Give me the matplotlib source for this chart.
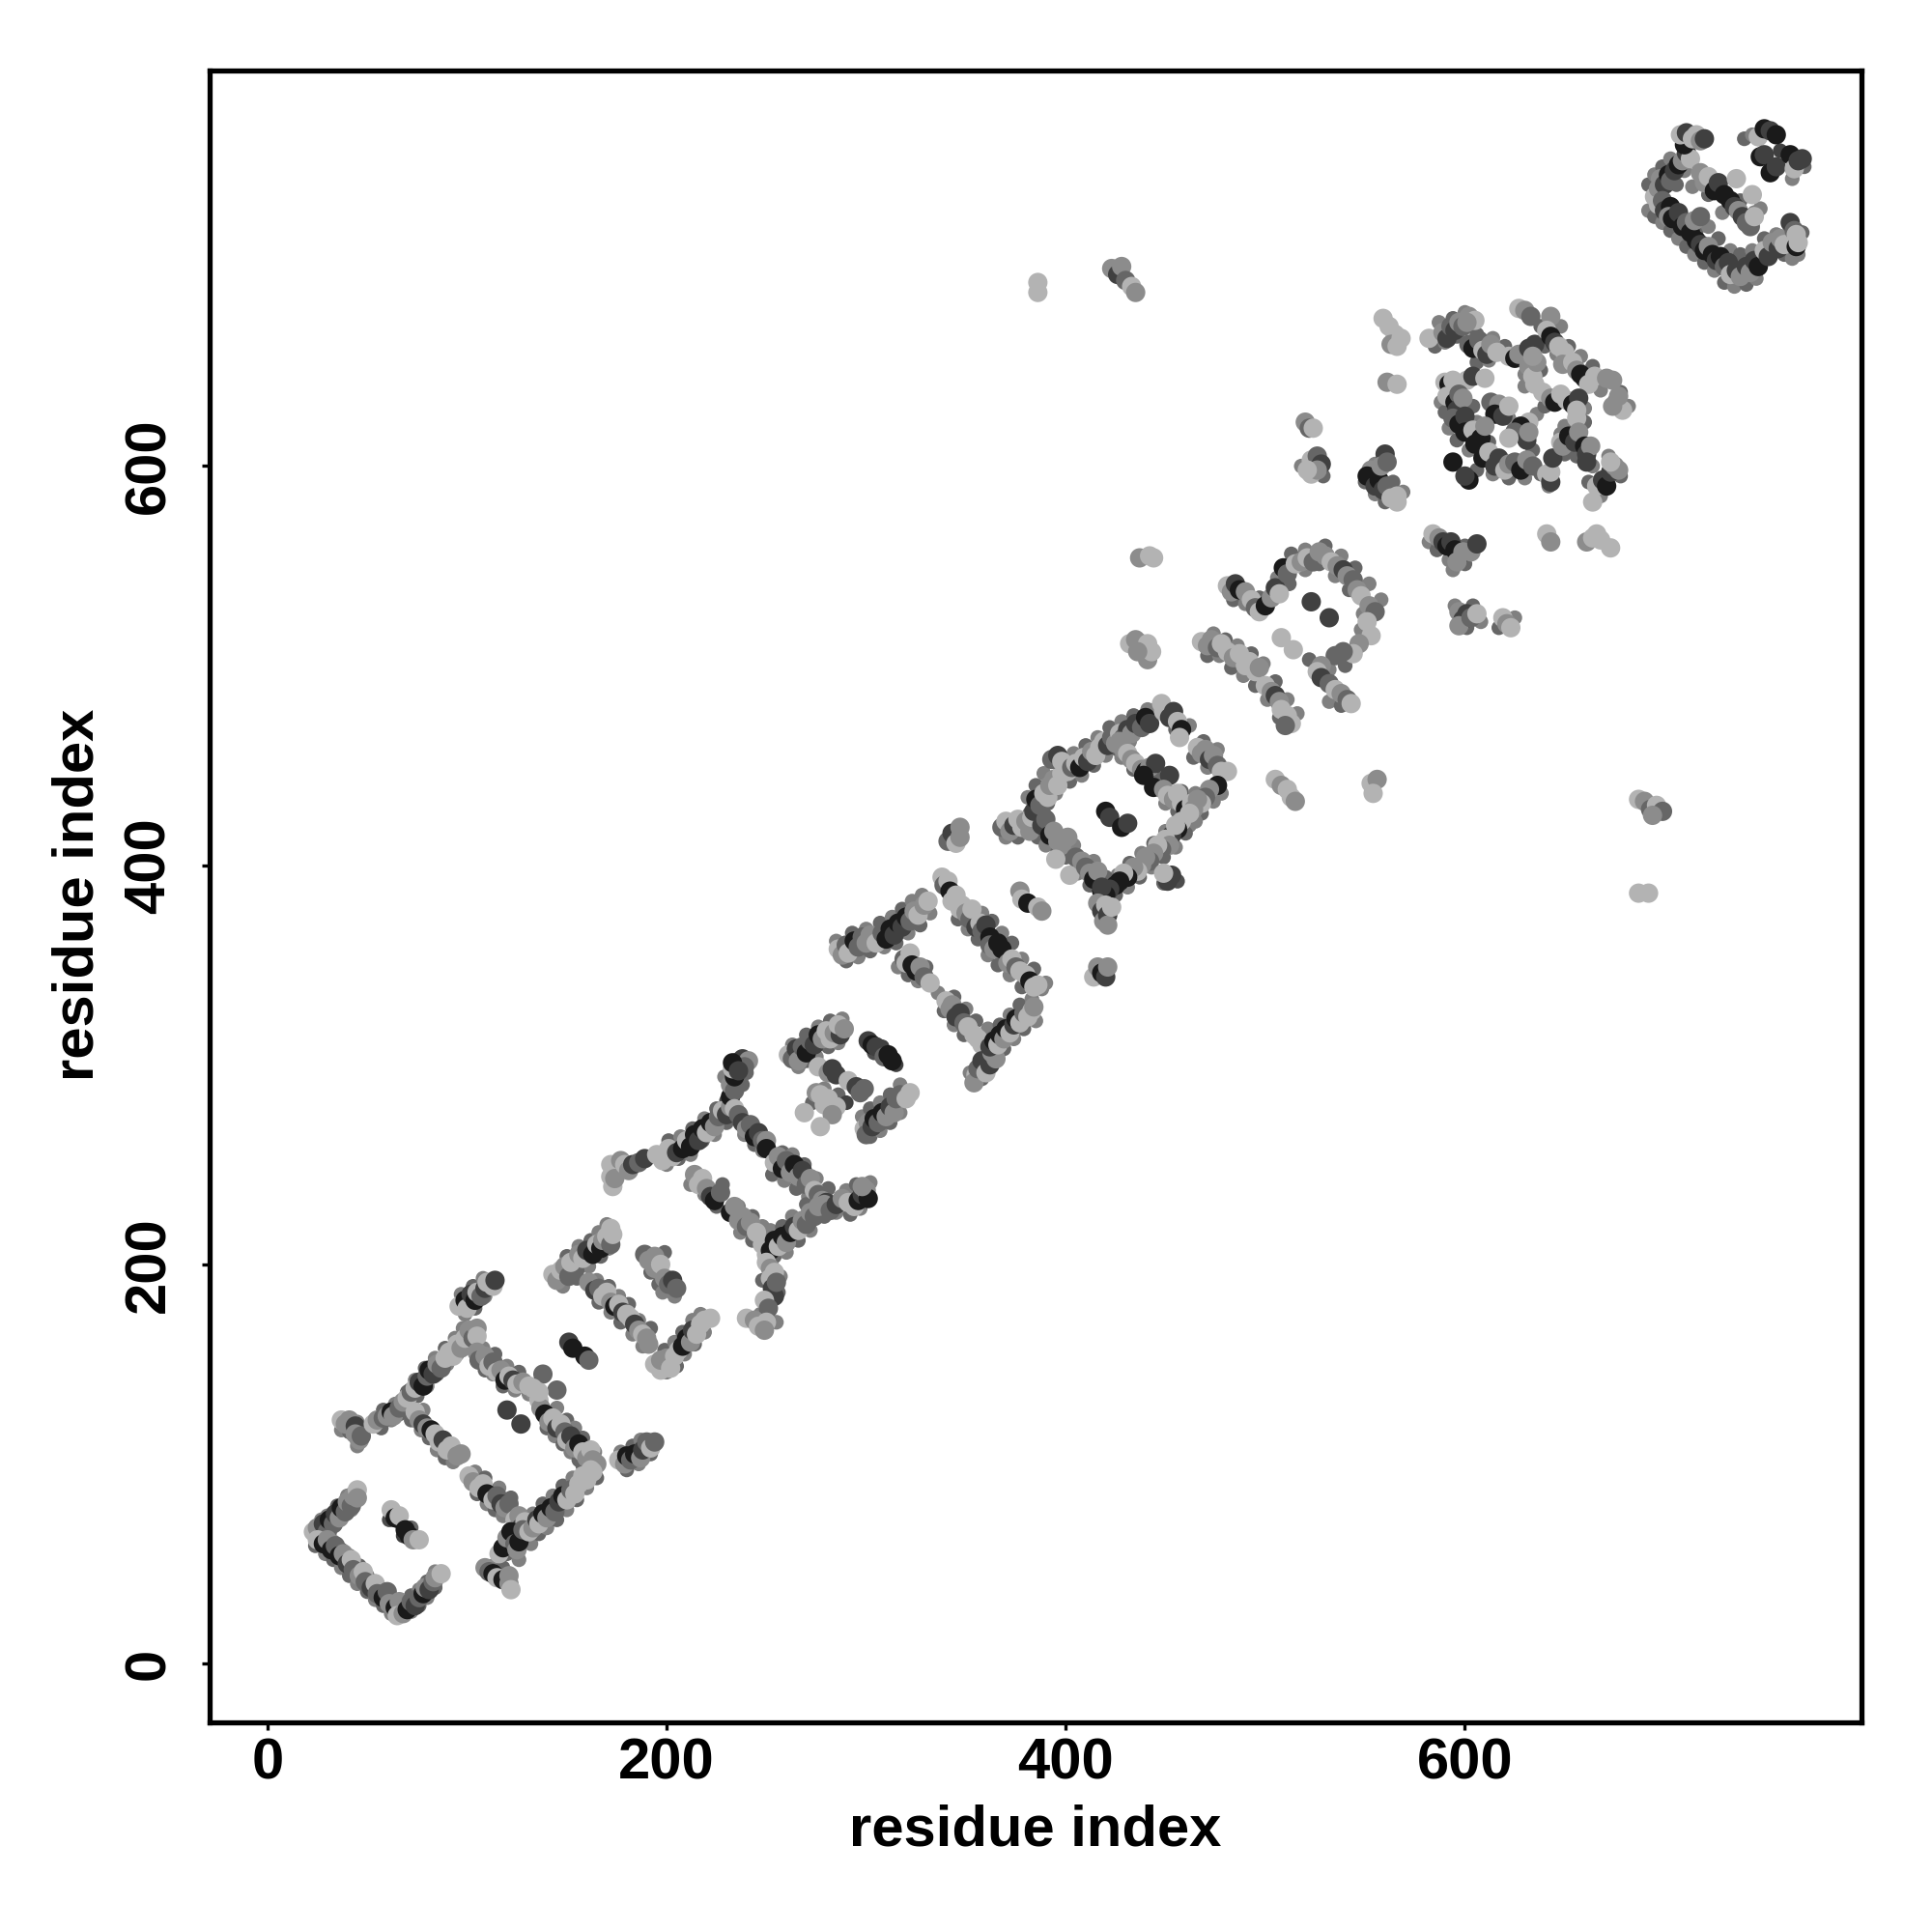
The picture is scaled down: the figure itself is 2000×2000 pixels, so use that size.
import matplotlib
matplotlib.use("Agg")
import matplotlib.pyplot as plt

plt.rcParams['font.family'] = ['Liberation Sans', 'DejaVu Sans']

x_ticks = [0, 200, 400, 600]
y_ticks = [0, 200, 400, 600]
x_title = "residue index"
y_title = "residue index"

# (residue i, residue j, grey level)
under_a = [(26,65,.4),(30,69,.3),(34,71,.5),(38,75,.4),(42,77,.5),(44,81,.4),(27,72,.5),(30,74,.5),(35,79,.4),(40,84,.5),
 (24,59,.4),(29,55,.5),(33,52,.4),(37,48,.5),(41,44,.4),(45,40,.5),(50,36,.4),(54,32,.5),(58,29,.4),(62,25,.5),(33,61,.5),(37,57,.4),(41,54,.5),(46,49,.4),(50,44,.5),(54,41,.4),(58,37,.5),(62,33,.4),
 (72,26,.5),(76,29,.4),(80,33,.5),(84,38,.4),(72,34,.4),(76,37,.5),(80,41,.4),(84,46,.5),(66,71,.4),(68,64,.25),(72,68,.4),(61,72,.3),
 (37,117,.5),(41,116,.4),(45,109,.5),(45,121,.5),
 (57,118,.4),(62,122,.5),(66,125,.4),(70,129,.5),(75,134,.4),(80,139,.5),(85,145,.4),(90,150,.5),(95,155,.4),(100,160,.5),(58,127,.4),(64,130,.5),(70,136,.4),(74,142,.5),(79,148,.4),(84,153,.5),(89,158,.4),(94,163,.5),(98,168,.5),
 (109,147,.4),(113,145,.5),(118,139,.4),(124,137,.5),(131,135,.5),(108,158,.5),(114,155,.4),(120,149,.5),(126,146,.4),(140,118,.4),(144,114,.5),(148,110,.4),(152,106,.5),(156,102,.4),(145,128,.5),(150,122,.4),(154,118,.5),(158,113,.4),(164,106,.5),
 (77,117,.5),(81,113,.4),(85,107,.5),(89,103,.4),(93,101,.5),(72,122,.4),(78,127,.5),(105,85,.4),(110,80,.5),(114,77,.4),(118,74,.5),(104,96,.5),(109,93,.4),(116,88,.5),(122,83,.4),
 (120,55,.4),(126,52,.5),(127,64,.4),(132,60,.5),(136,65,.4),(140,68,.5),(145,72,.4),(150,77,.5),(155,82,.4),(160,88,.5),(165,93,.4),(128,73,.4),(133,75,.5),(138,80,.4),(143,84,.5),(148,89,.4),(153,93,.5),(158,99,.4),
 (113,49,.5),(118,48,.4),(177,106,.5),(183,109,.4),(187,112,.5),(180,97,.4),(186,100,.5),(192,105,.4),(99,175,.5),(104,178,.4),(109,184,.5),(97,185,.5),(103,189,.4),(108,193,.5),
 (148,189,.5),(155,193,.4),(161,199,.5),(167,204,.4),(171,208,.5),(150,204,.4),(156,209,.5),(162,212,.4),(166,216,.5),(170,220,.5),
 (165,192,.5),(171,189,.4),(176,184,.5),(181,180,.4),(186,172,.5),(192,168,.4),(166,181,.4),(172,176,.5),(177,171,.4),(183,165,.5),(188,159,.5),
 (200,146,.5),(205,149,.4),(209,155,.5),(214,160,.4),(219,166,.5),(199,157,.4),(204,161,.5),(208,166,.4),(213,172,.5),(217,175,.5),
 (199,206,.4),(196,190,.4),(204,184,.5),(198,186,.5),(192,196,.4),
 (200,250,.5),(206,253,.4),(212,255,.5),(218,262,.4),(224,265,.5),(230,271,.4),(201,262,.4),(207,264,.5),(213,268,.4),(219,273,.5),(225,278,.4),(230,282,.3),(229,294,.5),(238,290,.4),(240,296,.4),
 (239,265,.5),(244,260,.4),(248,257,.5),(253,245,.4),(259,242,.5),(265,238,.4),(271,234,.5),(277,229,.4),(252,256,.5),(258,256,.4),(263,255,.5),(269,250,.4),(275,243,.5),(281,238,.4),
 (219,235,.5),(225,229,.4),(237,216,.5),(243,212,.4),(212,240,.5),(228,240,.4),(236,229,.5),(243,224,.4),(248,219,.5),
 (247,215,.4),(252,217,.5),(258,219,.4),(263,224,.5),(270,230,.4),(254,204,.4),(260,206,.5),(266,212,.4),(272,217,.5),(279,224,.4),(285,226,.5),(292,225,.4),(297,228,.5),(290,237,.5),(295,240,.4),(302,241,.5),
 (248,192,.4),(257,194,.5),(256,186,.4),(247,175,.5),(255,171,.5),
 (266,299,.5),(270,302,.4),(275,304,.5),(281,309,.4),(286,311,.5),(263,310,.5),(270,315,.4),(276,319,.5),(282,322,.4),(288,323,.5),(304,306,.3),(308,309,.25),(315,300,.25),
 (302,264,.4),(307,267,.5),(312,271,.4),(317,276,.5),(298,274,.5),(302,278,.4),(307,281,.5),(312,285,.4),(317,290,.5),(273,281,.4),(279,288,.5),(286,285,.4),(290,281,.25),
 (290,352,.4),(296,354,.5),(302,357,.4),(309,359,.5),(315,361,.4),(321,366,.5),(327,370,.4),(332,376,.5),(285,362,.5),(293,366,.4),(300,368,.5),(307,371,.4),(313,374,.5),(318,378,.4),(323,382,.5),(328,385,.5),
 (346,373,.4),(351,368,.5),(356,363,.4),(361,355,.5),(366,350,.4),(372,345,.5),(378,339,.4),(358,376,.5),(363,372,.4),(368,366,.5),(373,361,.4),(378,353,.5),(384,348,.4),(390,341,.5),(388,338,.5),
 (316,349,.5),(321,345,.4),(326,342,.5),(330,349,.4),(336,336,.5),(339,327,.4),(344,320,.5),(349,315,.4),(344,334,.4),(350,328,.5),(355,322,.4),(361,318,.5),
 (352,296,.5),(358,293,.4),(360,305,.5),(364,316,.5),(369,308,.4),(374,313,.5),(379,318,.4),(385,322,.5),(367,320,.4),(372,325,.5),(377,330,.4),(383,333,.5),
 (370,414,.5),(376,414,.4),(382,426,.4),(389,426,.5),(391,431,.4),(395,436,.5),(381,434,.5),(385,440,.4),(389,446,.5),(402,442,.4),(408,445,.5),(414,450,.4),(420,455,.5),(426,458,.4),(432,462,.5),(404,456,.5),(410,460,.4),(416,464,.5),(422,469,.4),(428,472,.5),(434,475,.4),(441,478,.5),(445,478,.5),
 (455,468,.4),(462,470,.5),(469,462,.4),(476,458,.5),(464,454,.4),(471,449,.5),
 (428,454,.5),(434,448,.4),(445,444,.4),(450,431,.5),(456,427,.4),(462,420,.5),(458,437,.4),(465,436,.5),(468,426,.4),(474,432,.5),(478,436,.5),
 (420,392,.4),(426,395,.5),(432,401,.4),(438,406,.5),(444,411,.4),(450,417,.5),(417,380,.3),(425,385,.4),(431,389,.5),(437,394,.4),(443,399,.5),(449,404,.4),(455,409,.5),(460,416,.4),(465,422,.5),
 (386,414,.4),(390,410,.5),(396,407,.4),(404,410,.5),(400,404,.4),(406,396,.5),(412,390,.4),(414,402,.5),(420,394,.4),(449,391,.4),(456,392,.3),
 (471,505,.4),(477,505,.5),(483,499,.4),(489,495,.5),(495,490,.4),(501,483,.5),(507,474,.4),(474,516,.5),(480,513,.4),(486,510,.5),(493,506,.4),(499,501,.5),(505,492,.4),(511,483,.5),(516,476,.5),
 (484,533,.4),(490,531,.5),(497,534,.4),(506,544,.5),(512,541,.4),(520,548,.5),(527,551,.4),(535,545,.5),(542,538,.4),(549,526,.5),(513,556,.4),(520,558,.5),(530,560,.4),(538,555,.5),(545,549,.4),(552,541,.5),(558,533,.5),(522,503,.4),(532,498,.5),(540,500,.4),(548,518,.5),(532,482,.5),(538,480,.4),
 (550,592,.4),(555,586,.5),(560,582,.4),(555,601,.5),(564,592,.4),(569,587,.5),(518,600,.5),(529,595,.4),
 (585,660,.4),(590,662,.5),(596,665,.4),(587,672,.5),(594,674,.4),(600,677,.5),(606,652,.4),(612,653,.5),(606,666,.4),(614,664,.5),(620,660,.4),
 (638,670,.4),(648,670,.5),(640,660,.4),(646,656,.5),(652,660,.4),(658,655,.5),(664,650,.4),(668,638,.5),(678,637,.4),(682,630,.5),(630,646,.5),(638,648,.4),(630,640,.5),
 (588,632,.5),(590,627,.4),(592,619,.5),(596,613,.4),(602,608,.5),(604,630,.4),(606,622,.5),(612,612,.4),(622,624,.5),(634,608,.4),(636,626,.5),(640,630,.4),(660,629,.5),(660,622,.4),(650,620,.5),
 (606,598,.4),(614,596,.5),(622,594,.4),(630,594,.5),(638,596,.4),(642,590,.5),(650,606,.4),(648,616,.5),(656,605,.4),(664,600,.5),(662,592,.4),(668,585,.5),(678,595,.4),(672,605,.5),
 (582,562,.5),(586,558,.4),(592,553,.5),(600,560,.4),(594,548,.5),(600,551,.4),(595,530,.5),(604,530,.4),(608,522,.5),(601,519,.4),(625,524,.5),(617,519,.4),
 (692,728,.5),(695,725,.4),(699,722,.5),(703,718,.4),(707,714,.5),(711,710,.4),(715,706,.5),(720,702,.4),(725,698,.5),(730,692,.4),(735,690,.5),(741,691,.4),(746,694,.5),(692,741,.4),(695,746,.5),(699,750,.4),(703,754,.5),(710,748,.5),(706,741,.4),(714,740,.5),(722,736,.4),(729,727,.5),(716,718,.4),(722,720,.5),(727,714,.4),(733,708,.5),(738,706,.4),(744,708,.5),(750,714,.4),(756,716,.5),(760,706,.4),(767,706,.5),(769,717,.4),(764,704,.5),
 (740,764,.4),(744,766,.5),(764,744,.5),(770,750,.4),(758,758,.25),(745,727,.5),(738,733,.4),(748,729,.5)]

hairpin_a = [(23,66,.7),(25,68,.55),(27,63,.4),(28,70,.25),(30,66,.4),(31,72,.1),(33,70,.4),(34,75,.25),(36,73,.55),(37,78,.1),(39,76,.4),(40,81,.55),(42,79,.4),(43,84,.55),(45,87,.7),(45,83,.55),
 (25,62,.7),(28,60,.1),(30,62,.55),(32,57,.1),(34,59,.4),(36,54,.1),(38,55,.55),(40,50,.25),(42,52,.7),(43,47,.4),(46,44,.55),(48,46,.7),(49,41,.4),(52,38,.25),(54,40,.7),(55,35,.4),(58,33,.1),(60,36,.4),(61,30,.55),(64,28,.1),(66,31,.55),(65,24,.7),(68,25,.55),(70,27,.1),(72,31,.4),(74,29,.25),(76,33,.4),(78,35,.1),(79,38,.55),(81,37,.25),(83,41,.4),(84,43,.55),(87,45,.7),
 (62,77,.7),(64,73,.1),(66,74,.7),(69,67,.1),(71,64,.1),(73,62,.55),(76,62,.7)]
hairpin_b = [(37,122,.7),(39,120,.55),(41,122,.55),(44,119,.25),(44,115,.55),(46,112,.55),(47,114,.4),
 (53,120,.7),(55,122,.55),(58,123,.4),(60,124,.55),(62,126,.1),(63,124,.55),(66,128,.4),(68,131,.55),(70,133,.7),(72,136,.4),(74,138,.7),(76,141,.25),(78,139,.1),(80,144,.4),(81,147,.1),(83,145,.25),(85,150,.55),(87,148,.4),(89,153,.7),(91,156,.7),(93,154,.7),(95,160,.7),(97,158,.55),(99,163,.7),(101,167,.55),(103,163,.4),(105,168,.55),(105,164,.7),
 (105,156,.55),(106,152,.4),(109,154,.55),(111,149,.7),(113,151,.4),(115,146,.7),(117,147,.55),(119,142,.1),(121,144,.7),(123,142,.25),(125,140,.7),(128,141,.55),(131,139,.7),(134,136,.55),(136,132,.7),(137,128,.55),
 (139,125,.1),(141,121,.55),(143,123,.7),(145,118,.25),(147,120,.7),(149,116,.4),(150,112,.7),(152,114,.25),(154,108,.55),(156,110,.1),(158,106,.7),(160,103,.55),(162,107,.7),(163,102,.55),(165,100,.55),
 (74,126,.7),(76,122,.55),(78,120,.25),(80,118,.55),(82,117,.1),(84,115,.7),(86,111,.7),(88,112,.25),(90,107,.7),(92,109,.7),(95,104,.55),(97,105,.55),
 (101,94,.7),(103,91,.55),(106,88,.7),(108,90,.7),(110,85,.1),(113,82,.7),(115,84,.4),(117,80,.25),(119,78,.55),(121,80,.4),(124,72,.7),(126,74,.55),(127,68,.25),(129,71,.7),
 (116,55,.7),(118,58,.1),(120,63,.55),(122,66,.1),(124,60,.4),(125,57,.55),(126,61,.1),(128,67,.4),(131,66,.7),(133,68,.55),(135,72,.25),(136,70,.7),(138,75,.1),(140,73,.55),(142,78,.1),(144,76,.4),(146,81,.25),(148,84,.1),(150,82,.7),(152,87,.4),(154,85,.7),(156,90,.7),(158,94,.7),(160,92,.7),(162,97,.7),(163,96,.7),
 (109,48,.55),(111,46,.4),(113,45,.1),(115,43,.7),(118,42,.1),(121,44,.55),(121,40,.55),(122,37,.7),
 (176,102,.7),(179,100,.55),(180,104,.1),(182,102,.4),(184,105,.1),(187,103,.55),(188,107,.25),(190,111,.4),(192,108,.7),(194,111,.4),
 (96,179,.7),(99,182,.1),(100,178,.7),(102,185,.25),(104,182,.1),(105,186,.7),(107,184,.4),(109,188,.25),(110,191,.7),(113,189,.7),(114,192,.25),
 (120,127,.25),(127,120,.25),(138,145,.4),(145,137,.4),(133,138,.7),(136,136,.7)]
sheet_c = [(143,195,.7),(145,192,.55),(147,197,.7),(149,199,.55),(151,194,.4),(154,197,.4),(152,201,.7),(156,205,.55),(158,203,.7),(160,207,.25),(163,205,.1),(165,210,.7),(167,208,.1),(168,212,.55),(170,214,.7),(172,210,.4),(172,218,.7),(173,215,.7),
 (161,191,.55),(164,187,.25),(166,188,.4),(168,184,.7),(170,186,.7),(172,181,.55),(174,179,.1),(176,180,.7),(178,176,.25),(180,175,.7),(182,173,.7),(184,170,.25),(186,167,.55),(188,165,.7),(190,163,.55),(191,160,.55),
 (194,150,.7),(197,147,.7),(197,152,.55),(200,153,.55),(202,148,.7),(204,154,.7),(206,157,.7),(208,159,.1),(210,163,.1),(212,161,.55),(213,167,.25),(215,165,.7),(217,170,.7),(219,172,.7),(222,173,.7),
 (151,161,.25),(153,158,.1),(159,154,.1),(161,152,.4),
 (189,205,.4),(191,202,.55),(194,204,.55),(194,198,.55),(197,200,.7),(199,193,.55),(201,190,.4),(203,192,.25),(205,188,.4),
 (172,250,.7),(175,247,.7),(177,252,.55),(172,244,.7),(173,239,.7),(174,243,.55),(179,250,.7),(181,247,.55),(183,250,.25),(186,251,.4),(189,253,.25),
 (195,255,.7),(198,252,.7),(201,258,.7),(203,254,.7),(205,256,.25),(208,258,.1),(210,262,.7),(212,259,.1),(214,265,.1),(216,262,.25),(218,268,.1),(220,266,.7),(222,271,.1),(224,269,.55),(226,274,.4),(228,277,.7),(230,275,.25),(232,279,.55),(232,284,.1),
 (232,290,.55),(234,287,.4),(234,294,.1),(233,298,.7),(235,301,.1),(238,303,.25),(241,302,.55),(239,299,.4),(233,301,.1),(236,297,.25),
 (234,278,.7),(236,275,.4),(238,271,.25),(240,268,.55),(242,270,.4),(244,264,.1),(246,266,.25),(248,262,.4),(250,262,.55),(250,258,.1),
 (254,251,.7),(256,254,.55),(258,248,.1),(260,252,.4),(262,246,.55),(264,250,.1),(266,244,.55),(268,247,.25),(270,240,.4),(272,243,.55),(274,237,.7),(276,235,.4),(278,232,.55),(280,231,.25),(282,228,.7),
 (214,245,.55),(216,240,.7),(218,243,.7),(220,238,.55),(222,234,.25),(224,232,.1),(227,236,.4),(232,226,.1),(234,229,.55),(236,222,.55),(238,224,.55),(240,219,.4),(242,221,.55),(245,216,.7),
 (248,210,.7),(250,205,.7),(252,207,.1),(254,212,.1),(256,209,.7),(258,214,.1),(260,211,.55),(262,216,.1),(264,219,.25),(266,217,.7),(268,222,.55),(270,220,.4),(272,226,.55),(274,224,.4),(276,229,.55),(279,230,.55),(282,227,.4),(285,230,.25),(288,233,.55),(291,231,.7),(294,229,.7),(296,232,.1),(298,235,.25),(300,237,.55),(301,233,.1),(298,239,.55),
 (250,201,.7),(252,198,.55),(254,196,.7),(252,193,.7),(253,188,.25),(254,184,.25),(255,191,.4),(249,182,.7),(251,178,.4),
 (240,173,.7),(244,172,.55),(246,169,.7),(250,171,.7),(249,167,.55)]
cluster_d = [(261,305,.7),(263,303,.4),(265,308,.25),(266,302,.55),(268,309,.4),(270,306,.1),(272,312,.4),(274,310,.25),(276,315,.1),(278,313,.55),(280,317,.7),(282,313,.7),(284,316,.55),(287,315,.25),(286,320,.7),(289,318,.55),
 (276,299,.7),(281,296,.55),(283,298,.25),(285,295,.25),(291,292,.7),
 (301,312,.25),(303,310,.1),(305,309,.25),(309,304,.4),(311,305,.1),(313,302,.1),
 (275,286,.55),(277,285,.7),(279,280,.7),(281,283,.7),(285,279,.7),(283,275,.55),(269,276,.7),(277,269,.7),
 (295,289,.25),(297,286,.4),(299,288,.4),
 (299,268,.7),(301,271,.55),(300,265,.4),(303,269,.25),(304,273,.1),(306,271,.4),(308,276,.1),(310,274,.55),(312,279,.25),(314,276,.55),(315,283,.4),(317,285,.4),(320,283,.7),(322,286,.7)]
ladder_e = [(286,358,.7),(288,355,.55),(290,360,.4),(291,356,.7),(294,362,.1),(296,359,.4),(298,364,.4),(300,361,.55),(302,365,.55),(305,361,.7),
 (308,366,.4),(310,363,.1),(312,368,.1),(314,365,.25),(316,371,.1),(318,369,.25),(320,374,.1),(322,372,.4),(324,377,.55),(326,375,.7),(329,380,.55),(331,382,.7),
 (338,394,.7),(339,390,.4),(341,392,.7),(342,387,.1),(343,382,.7),(345,385,.7),(347,378,.7),(348,380,.7),(350,376,.55),(352,373,.4),(353,378,.7),(355,369,.25),(357,371,.7),(358,367,.4),(360,370,.25),(362,364,.1),(362,360,.4),(364,358,.55),(366,361,.1),(368,358,.1),(371,351,.55),(373,353,.7),(375,349,.4),(377,347,.7),(380,345,.7),(382,342,.1),(384,339,.7),(386,340,.7),
 (319,353,.4),(320,351,.7),(322,356,.7),(323,350,.1),(325,347,.1),(327,349,.55),(329,344,.4),(332,341,.7),
 (340,332,.7),(342,328,.55),(343,330,.55),(345,324,.25),(347,326,.25),(349,321,.4),(351,319,.7),(354,315,.7),(356,313,.7),(358,310,.7),
 (355,295,.7),(354,291,.55),(356,298,.4),(358,302,.25),(360,296,.7),(362,300,.25),(363,306,.55),(365,303,.55),
 (362,309,.25),(364,312,.1),(366,310,.7),(367,315,.1),(369,313,.55),(370,318,.1),(372,316,.7),(374,320,.25),(375,323,.1),(377,321,.7),(379,326,.4),(381,324,.7),(383,327,.7),(384,329,.55),
 (377,387,.55),(378,383,.7),(381,381,.1),(386,379,.7),(388,377,.55),
 (341,412,.4),(343,416,.25),(345,411,.7),(347,419,.55),(347,414,.55),
 (414,344,.7),(416,349,.55),(418,346,.1),(420,344,.25),(421,349,.55)]
diamond_f = [(368,419,.4),(370,422,.7),(372,417,.55),(374,420,.25),(376,423,.7),(378,419,.7),(380,422,.55),(382,417,.55),(383,424,.7),
 (384,427,.25),(385,433,.1),(387,430,.4),(389,436,.7),(391,434,.7),(392,440,.55),(394,443,.55),(396,440,.7),(398,446,.7),(393,453,.4),(396,455,.25),(398,452,.7),
 (401,447,.7),(403,449,.4),(405,451,.7),(407,449,.1),(409,454,.7),(411,452,.25),(413,457,.55),(415,455,.7),(417,459,.7),(419,462,.7),(421,460,.25),(423,464,.4),(425,461,.55),(427,466,.7),(429,464,.4),(431,468,.25),(433,466,.55),(435,471,.25),(438,469,.4),(440,474,.1),(442,471,.25),
 (448,481,.7),(449,477,.7),(452,474,.25),(454,477,.25),(456,472,.7),(458,468,.1),(457,464,.7),
 (466,459,.7),(468,456,.55),(470,458,.55),(472,453,.25),(474,455,.55),(476,450,.4),(478,447,.7),(481,447,.7),
 (427,462,.55),(429,458,.55),(431,456,.7),(433,453,.55),(435,451,.7),(438,448,.55),(440,447,.1),(442,449,.55),(445,451,.25),(452,445,.25),(439,445,.1),(444,439,.1),
 (449,438,.55),(451,435,.7),(454,433,.55),(456,436,.7),(458,431,.7),(460,428,.1),(463,431,.7),
 (476,440,.1),(472,438,.55),(470,434,.4),(468,431,.7),(466,433,.55),(464,428,.55),(462,426,.7),(458,422,.7),(456,418,.1),(453,415,.25),(455,420,.7),(450,413,.7),(452,410,.55),(448,408,.4),(446,410,.7),(444,406,.55),(442,402,.4),(440,404,.55),(438,400,.55),(436,397,.7),(434,399,.55),(431,394,.1),(429,396,.7),(427,392,.1),(425,390,.1),(422,388,.25),(420,385,.1),(418,387,.1),
 (453,395,.25),(451,392,.25),(449,396,.7),
 (420,427,.1),(422,424,.25),(428,419,.1),(431,421,.25),
 (388,420,.25),(390,423,.4),(392,415,.1),(394,417,.55),(396,412,.55),(398,410,.55),(401,414,.55),(395,403,.7),
 (402,395,.7),(405,404,.4),(408,402,.55),(410,399,.4),(412,396,.55),(414,393,.1),(416,397,.55),(418,389,.25),
 (416,381,.55),(418,377,.25),(419,372,.55),(420,380,.7),(421,375,.25),(421,370,.55),(423,379,.7)]
hairpin_g = [(437,554,.55),(442,555,.7),(444,554,.7),(432,511,.7),(435,513,.55),(438,511,.55),(441,511,.7),(441,503,.55),(443,507,.7),(436,507,.55),
 (468,512,.7),(471,510,.55),(473,513,.55),(476,509,.4),(478,511,.7),(481,507,.7),(484,504,.55),(487,506,.7),(490,500,.7),(492,502,.7),(495,497,.7),(497,499,.55),(500,490,.7),(503,487,.55),(505,485,.25),(507,482,.55),(508,478,.7),(511,475,.7),(513,471,.7),(510,470,.4),
 (505,443,.7),(508,440,.55),(511,438,.7),(513,434,.7),(515,432,.55),(553,441,.7),(556,443,.55),(554,436,.7),
 (481,540,.7),(483,537,.55),(485,541,.25),(487,538,.1),(490,537,.55),(493,533,.7),(495,529,.4),(497,527,.7),(500,530,.1),(503,534,.55),(505,539,.25),(507,536,.7),
 (509,549,.1),(511,546,.4),(515,551,.7),(518,552,.55),(521,554,.7),(524,552,.4),(527,557,.55),(530,555,.55),(533,552,.7),(536,550,.55),(539,548,.25),(541,545,.55),(544,543,.4),(546,538,.55),(548,535,.7),(552,530,.55),(555,527,.4),
 (551,522,.7),(553,515,.7),(547,511,.55),(544,506,.7),(539,507,.4),(535,505,.4),(528,500,.55),(526,497,.7),(528,494,.25),(532,491,.4),(535,488,.7),(538,486,.55),(541,483,.4),(543,481,.7),
 (523,532,.25),(532,524,.25),(508,514,.7),(514,508,.7)]
knot_h = [(386,692,.7),(386,687,.7),(423,699,.55),(426,696,.25),(428,700,.55),(430,693,.4),(433,690,.7),(435,687,.55),
 (687,433,.7),(690,432,.55),(693,428,.4),(696,430,.7),(699,427,.4),(694,425,.55),(687,386,.7),(692,386,.7),
 (520,622,.55),(522,619,.4),(524,619,.7),(523,603,.7),(526,605,.4),(528,601,.25),(523,596,.7),(526,598,.55),(521,598,.7),
 (553,598,.55),(551,595,.1),(555,590,.25),(557,593,.1),(559,588,.25),(561,590,.4),(563,584,.7),(566,585,.7),(566,582,.7),(560,606,.25),(558,600,.55),(561,602,.4),
 (559,674,.7),(562,670,.7),(565,666,.7),(563,661,.55),(566,660,.7),(568,664,.7),(561,642,.55),(566,641,.7),
 (582,664,.7),(589,667,.55),(591,664,.25),(593,670,.4),(595,668,.25),(597,672,.55),(599,670,.4),(602,675,.55),(605,673,.7),(601,672,.55),
 (602,661,.4),(604,659,.1),(607,663,.4),(609,658,.7),(611,656,.25),(613,661,.55),(616,657,.7),(622,655,.7),(625,654,.1),(627,656,.55),
 (627,679,.7),(630,678,.55),(633,675,.4),(632,659,.25),(635,661,.25),(632,650,.55),(634,645,.7),(635,641,.7),(636,652,.55),(634,655,.6),
 (643,675,.55),(641,668,.7),(643,665,.1),(645,662,.25),(647,660,.7),(650,657,.7),(649,651,.55),(654,652,.7),(656,648,.55),(658,646,.1),(660,644,.1),(662,641,.7),(665,645,.7),(671,644,.55),(674,643,.55),
 (676,632,.4),(679,628,.7),(674,630,.55),(677,635,.55),
 (590,642,.7),(592,641,.1),(594,643,.7),(601,643,.7),(604,645,.25),(610,644,.7),
 (591,635,.7),(595,632,.1),(597,636,.4),(596,628,.25),(599,634,.55),(594,624,.4),(597,621,.1),(600,625,.25),(600,617,.1),(604,618,.7),(608,614,.1),(605,611,.1),
 (613,632,.4),(617,631,.55),(615,626,.1),(619,625,.25),(622,630,.7),(610,620,.55),
 (632,622,.7),(628,620,.1),(625,617,.4),(631,613,.25),(632,617,.55),(622,614,.7),
 (639,637,.7),(643,634,.55),(645,632,.1),(648,636,.7),(651,633,.7),(654,631,.1),(657,634,.25),(656,628,.7),(656,624,.7),
 (609,604,.1),(612,607,.7),(615,600,.25),(617,604,.25),(620,598,.7),(622,601,.55),(625,602,.4),(628,598,.1),(631,603,.55),(634,600,.4),
 (641,596,.7),(643,592,.25),(643,597,.7),(644,604,.25),(648,612,.7),(649,610,.55),
 (652,615,.1),(655,612,.25),(657,617,.55),(660,610,.1),(661,606,.25),(663,610,.55),(661,602,.25),
 (666,590,.7),(669,593,.25),(671,590,.1),(673,597,.25),(675,600,.55),(677,598,.55),(664,582,.7),(673,602,.7),
 (584,566,.7),(587,564,.55),(589,562,.25),(591,560,.1),(593,562,.25),(595,558,.1),(597,555,.1),(599,557,.55),(596,552,.55),(603,557,.55),(606,561,.25),
 (641,566,.7),(643,562,.55),(661,562,.55),(664,564,.7),(666,566,.7),(668,563,.7),(673,559,.7),
 (597,527,.55),(599,523,.25),(601,526,.25),(597,520,.55),(603,524,.4),(606,526,.7),(619,524,.7),(621,521,.55),(623,519,.7),
 (594,602,.1),(602,593,.1),(600,595,.25)]
knot_i = [(695,735,.7),(697,739,.55),(698,744,.55),(700,741,.25),(702,746,.1),(703,743,.4),(705,748,.25),(707,751,.1),(709,753,.55),(711,757,.25),(713,754,.7),(710,761,.1),(708,766,.7),(711,767,.25),(714,764,.7),(716,766,.7),(718,763,.55),(720,764,.25),
 (697,731,.7),(699,733,.4),(700,728,.25),(703,730,.1),(702,725,.55),(704,724,.1),(707,727,.25),(709,720,.1),(711,722,.4),(713,717,.1),(715,723,.55),(718,725,.4),
 (716,713,.1),(718,711,.25),(720,708,.1),(722,710,.55),(724,706,.1),(726,703,.25),(728,705,.1),(730,700,.4),(732,702,.25),(733,696,.7),(736,698,.25),(738,695,.55),(741,700,.25),(743,697,.55),(745,703,.25),(747,700,.1),(750,708,.7),(752,705,.25),(754,712,.55),(757,709,.25),(758,714,.55),(760,711,.7),(763,722,.25),(765,718,.4),(766,710,.1),(767,712,.7),(766,716,.7),
 (718,747,.55),(720,742,.55),(722,745,.7),(725,738,.1),(727,742,.25),(730,736,.1),(733,733,.1),(735,730,.25),(737,728,.55),(739,725,.25),(741,722,.4),(743,720,.4),(745,725,.7),
 (736,744,.7),(744,736,.7),
 (747,765,.7),(750,769,.1),(753,768,.25),(756,766,.1),(748,755,.1),(750,756,.25),(753,747,.1),(756,750,.25),(763,756,.1),(765,749,.7),(767,753,.25),(769,754,.25)]

clusters = [hairpin_a, hairpin_b, sheet_c, cluster_d, ladder_e, diamond_f, hairpin_g, knot_h, knot_i]

fig = plt.figure(figsize=(10, 10), dpi=200)
ax = fig.add_axes([0.1085, 0.1085, 0.855, 0.855])

ax.scatter([p[0] for p in under_a], [p[1] for p in under_a], s=30,
           c=[str(p[2]) for p in under_a], linewidths=0, zorder=2)
for cluster in clusters:
    xs = [p[0] for p in cluster]
    ys = [p[1] for p in cluster]
    greys = [str(p[2]) for p in cluster]
    ax.scatter(xs, ys, s=52, c=greys, linewidths=0, zorder=2)

ax.set_xlim(-29, 798.7)
ax.set_ylim(-29.5, 798.2)
ax.set_aspect('equal', adjustable='box')
for s in ax.spines.values():
    s.set_linewidth(1.9)
ax.set_xticks(x_ticks)
ax.set_yticks(y_ticks)
ax.tick_params(axis='x', length=3, width=1.2, labelsize=21.5, pad=2.5)
ax.tick_params(axis='y', length=3, width=1.2, labelsize=21.5, pad=9.5)
for t in ax.get_xticklabels():
    t.set_fontweight('bold')
for t in ax.get_yticklabels():
    t.set_fontweight('bold')
    t.set_rotation(90)
    t.set_va('center')
fig.text(0.536, 0.0525, x_title, fontsize=21.5, fontweight='bold', ha='center', va='center')
fig.text(0.0405, 0.537, y_title, fontsize=21.5, fontweight='bold', ha='center', va='center', rotation=90)
fig.savefig("out.png", dpi=200)
